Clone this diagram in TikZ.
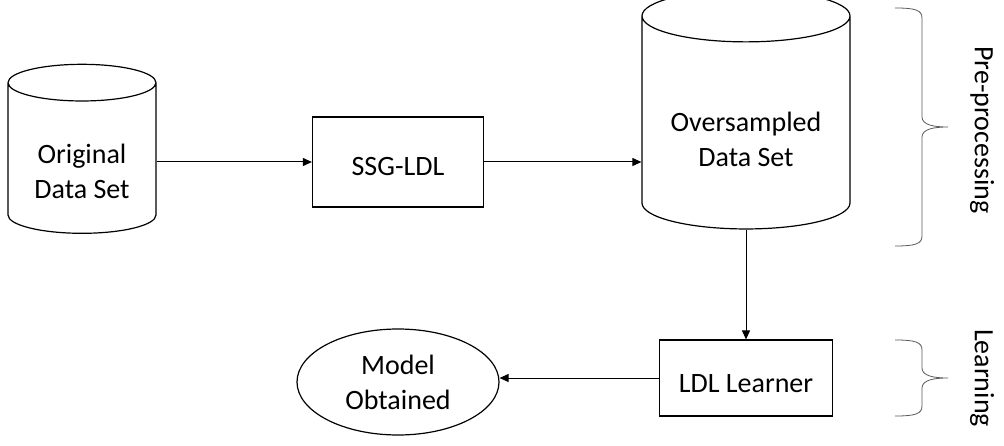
\documentclass[tikz,border=0pt]{standalone}
\usepackage{fontspec}
\setmainfont{Carlito}
\usetikzlibrary{arrows.meta, shapes.geometric, positioning}

\begin{document}
\begin{tikzpicture}[x=1pt, y=-1pt,
            txt/.style={align=center, font=\fontsize{28}{35}\selectfont},
            store/.style={draw, line width=1.2pt, cylinder, shape border rotate=90, txt},
            box/.style={draw, line width=1.2pt, txt, text height=28pt, text depth=0pt},
            arr/.style={line width=1pt, -{Triangle[length=9pt, width=8pt]}},
            brc/.style={draw=black!65, line width=0.8pt},
            lbl/.style={rotate=-90, font=\fontsize{28}{35}\selectfont}
        ]
            \useasboundingbox (0,0) rectangle (1004,446);

            \node[store, aspect=0.36, minimum width=148pt, minimum height=169pt] (orig) at (82,161) {\rule{0pt}{40pt}Original\\Data Set};
            \node[box, minimum width=171pt, minimum height=90pt] (ssg) at (398,162) {SSG-LDL};
            \node[store, aspect=0.33, minimum width=208pt, minimum height=239pt] (overs) at (746,126) {\rule{0pt}{46pt}Oversampled\\Data Set};
            \node[box, minimum width=173pt, minimum height=76pt] (learner) at (746,378) {LDL Learner};
            \node[ellipse, draw, line width=1.2pt, minimum width=202pt, minimum height=106pt, txt] (model) at (398,382) {Model\\Obtained};

            \draw[arr] (orig.east |- ssg) -- (ssg.west);
            \draw[arr] (ssg.east) -- (ssg -| overs.west);
            \draw[arr] (overs.south) -- (learner.north);
            \draw[arr] (learner.west) -- (model.east |- learner);

            % braces on the right
            \coordinate (pre1) at (895,8);
            \coordinate (lrn1) at (895,340);
            \draw[brc] (pre1) .. controls +(20,0) and +(0,-8) .. ++(27,10) -- ++(0,99)
                .. controls +(0,8) and +(-14,0) .. ++(26,10) .. controls +(-14,0) and +(0,-8) .. ++(-26,10)
                -- ++(0,99) .. controls +(0,8) and +(20,0) .. ++(-27,10);
            \draw[brc] (lrn1) .. controls +(20,0) and +(0,-8) .. ++(27,10) -- ++(0,18)
                .. controls +(0,8) and +(-14,0) .. ++(26,10) .. controls +(-14,0) and +(0,-8) .. ++(-26,10)
                -- ++(0,18) .. controls +(0,8) and +(20,0) .. ++(-27,10);
            \node[lbl] (pre) at (982,130) {Pre-processing};
            \node[lbl] (lrn) at (982,378) {Learning};
        \end{tikzpicture}
\end{document}
